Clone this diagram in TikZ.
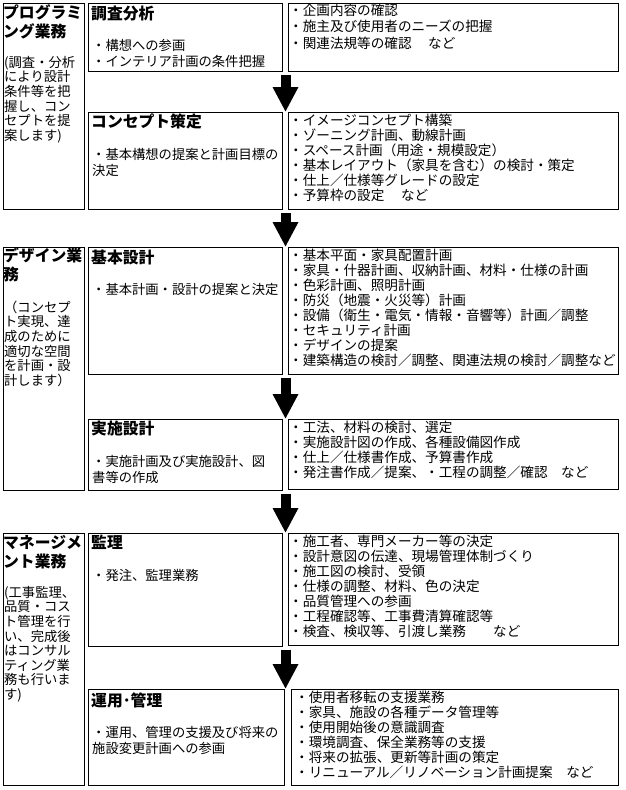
\documentclass[tikz,border=0pt]{standalone}
\usepackage{fontspec}
\setmainfont{Noto Sans CJK JP}
\usetikzlibrary{arrows.meta,fit,calc}
\newcommand{\fls}{\rule{0pt}{12pt}}
\newcommand{\tls}{\rule{0pt}{14pt}}
\begin{document}
\begin{tikzpicture}[x=1pt,y=-1pt,
  box/.style={draw=black,line width=1pt,inner sep=0pt,outer sep=0pt},
  ltitle/.style={font=\fontsize{15.8}{19.5}\selectfont\bfseries,inner sep=0pt,anchor=north west,align=left},
  mtitle/.style={font=\fontsize{15.8}{19.5}\selectfont\bfseries,inner sep=0pt,anchor=base west},
  lbody/.style={font=\fontsize{13.3}{14.6}\selectfont,inner sep=0pt,anchor=north west,align=left},
  mbody/.style={font=\fontsize{13.3}{16.5}\selectfont,inner sep=0pt,anchor=north west,align=left},
  rbody/.style={font=\fontsize{13.6}{15}\selectfont,inner sep=0pt,anchor=north west,align=left},
  bigarrow/.style={line width=10pt,-{Triangle[width=24pt,length=25pt]}}
]
\useasboundingbox (0,0) rectangle (625,790);
% left column
\node[box,fit={(3,3)(84,209)}] (l1) {};
\node[box,fit={(3,247)(84,490)}] (l2) {};
\node[box,fit={(3,533)(84,785)}] (l3) {};
% middle column
\node[box,fit={(88,3)(282,71)}] (m1) {};
\node[box,fit={(88,112)(282,209)}] (m2) {};
\node[box,fit={(88,247)(282,374)}] (m3) {};
\node[box,fit={(88,419)(282,490)}] (m4) {};
\node[box,fit={(88,533)(282,646)}] (m5) {};
\node[box,fit={(88,689)(284,785)}] (m6) {};
% right column
\node[box,fit={(288,3)(618,71)}] (r1) {};
\node[box,fit={(288,112)(618,209)}] (r2) {};
\node[box,fit={(288,247)(618,374)}] (r3) {};
\node[box,fit={(288,419)(618,489)}] (r4) {};
\node[box,fit={(288,533)(618,645)}] (r5) {};
\node[box,fit={(291,689)(618,785)}] (r6) {};
% left texts
\node[ltitle] (l1t) at ($(l1.north west)+(0,1)$) {\tls プログラミ\\ング業務};
\node[lbody] (l1b) at ($(l1.north west)+(1,52)$) {\fls(調査・分析\\により設計\\条件等を把\\握し、コン\\セプトを提\\案します)};
\node[ltitle] (l2t) at ($(l2.north west)+(0,0)$) {\tls デザイン業\\務};
\node[lbody] (l2b) at ($(l2.north west)+(1,53)$) {\fls（コンセプ\\ト実現、達\\成のために\\適切な空間\\を計画・設\\計します）};
\node[ltitle] (l3t) at ($(l3.north west)+(0,1)$) {\tls マネージメ\\ント業務};
\node[lbody] (l3b) at ($(l3.north west)+(1,52)$) {\fls(工事監理、\\品質・コス\\ト管理を行\\い、完成後\\はコンサル\\ティング業\\務も行いま\\す)};
% middle texts
\node[mtitle] (m1t) at ($(m1.north west)+(3,16)$) {調査分析};
\node[mbody] (m1b) at ($(m1.north west)+(4,35)$) {\fls・構想への参画\\・インテリア計画の条件把握};
\node[mtitle] (m2t) at ($(m2.north west)+(3,15)$) {コンセプト策定};
\node[mbody] (m2b) at ($(m2.north west)+(4,35)$) {\fls・基本構想の提案と計画目標の\\決定};
\node[mtitle] (m3t) at ($(m3.north west)+(3,16)$) {基本設計};
\node[mbody] (m3b) at ($(m3.north west)+(4,35)$) {\fls・基本計画・設計の提案と決定};
\node[mtitle] (m4t) at ($(m4.north west)+(3,15)$) {実施設計};
\node[mbody] (m4b) at ($(m4.north west)+(4,35)$) {\fls・実施計画及び実施設計、図\\書等の作成};
\node[mtitle] (m5t) at ($(m5.north west)+(3,15)$) {監理};
\node[mbody] (m5b) at ($(m5.north west)+(4,35)$) {\fls・発注、監理業務};
\node[mtitle] (m6t) at ($(m6.north west)+(3,17)$) {運用･管理};
\node[mbody] (m6b) at ($(m6.north west)+(4,36)$) {\fls・運用、管理の支援及び将来の\\施設変更計画への参画};
% right texts
\node[rbody,font=\fontsize{13.6}{16.5}\selectfont] (r1b) at ($(r1.north west)+(1,0)$) {\fls・企画内容の確認\\・施主及び使用者のニーズの把握\\・関連法規等の確認　 など};
\node[rbody] (r2b) at ($(r2.north west)+(1,1)$) {\fls・イメージコンセプト構築\\・ゾーニング計画、動線計画\\・スペース計画（用途・規模設定）\\・基本レイアウト（家具を含む）の検討・策定\\・仕上／仕様等グレードの設定\\・予算枠の設定　 など};
\node[rbody] (r3b) at ($(r3.north west)+(1,1)$) {\fls・基本平面・家具配置計画\\・家具・什器計画、収納計画、材料・仕様の計画\\・色彩計画、照明計画\\・防災（地震・火災等）計画\\・設備（衛生・電気・情報・音響等）計画／調整\\・セキュリティ計画\\・デザインの提案\\・建築構造の検討／調整、関連法規の検討／調整など};
\node[rbody] (r4b) at ($(r4.north west)+(1,1)$) {\fls・工法、材料の検討、選定\\・実施設計図の作成、各種設備図作成\\・仕上／仕様書作成、予算書作成\\・発注書作成／提案、・工程の調整／確認　など};
\node[rbody] (r5b) at ($(r5.north west)+(1,1)$) {\fls・施工者、専門メーカー等の決定\\・設計意図の伝達、現場管理体制づくり\\・施工図の検討、受領\\・仕様の調整、材料、色の決定\\・品質管理への参画\\・工程確認等、工事費清算確認等\\・検査、検収等、引渡し業務　　など};
\node[rbody] (r6b) at ($(r6.north west)+(4,1)$) {\fls・使用者移転の支援業務\\・家具、施設の各種データ管理等\\・使用開始後の意識調査\\・環境調査、保全業務等の支援\\・将来の拡張、更新等計画の策定\\・リニューアル／リノベーション計画提案　など};
% arrows
\coordinate (a1s) at ($(m1.south east)!0.5!(r1.south west)+(0.5,4)$);
\coordinate (a2s) at ($(m2.south east)!0.5!(r2.south west)+(0.5,4)$);
\coordinate (a3s) at ($(m3.south east)!0.5!(r3.south west)+(0.5,4)$);
\coordinate (a4s) at ($(m4.south east)!0.5!(r4.south west)+(0.5,4)$);
\coordinate (a5s) at ($(m5.south east)!0.5!(r5.south west)+(0.5,4)$);
\draw[bigarrow] (a1s) -- (a1s |- m2.north);
\draw[bigarrow] (a2s) -- (a2s |- m3.north);
\draw[bigarrow] (a3s) -- (a3s |- m4.north);
\draw[bigarrow] (a4s) -- (a4s |- m5.north);
\draw[bigarrow] (a5s) -- (a5s |- m6.north);
\end{tikzpicture}
\end{document}
